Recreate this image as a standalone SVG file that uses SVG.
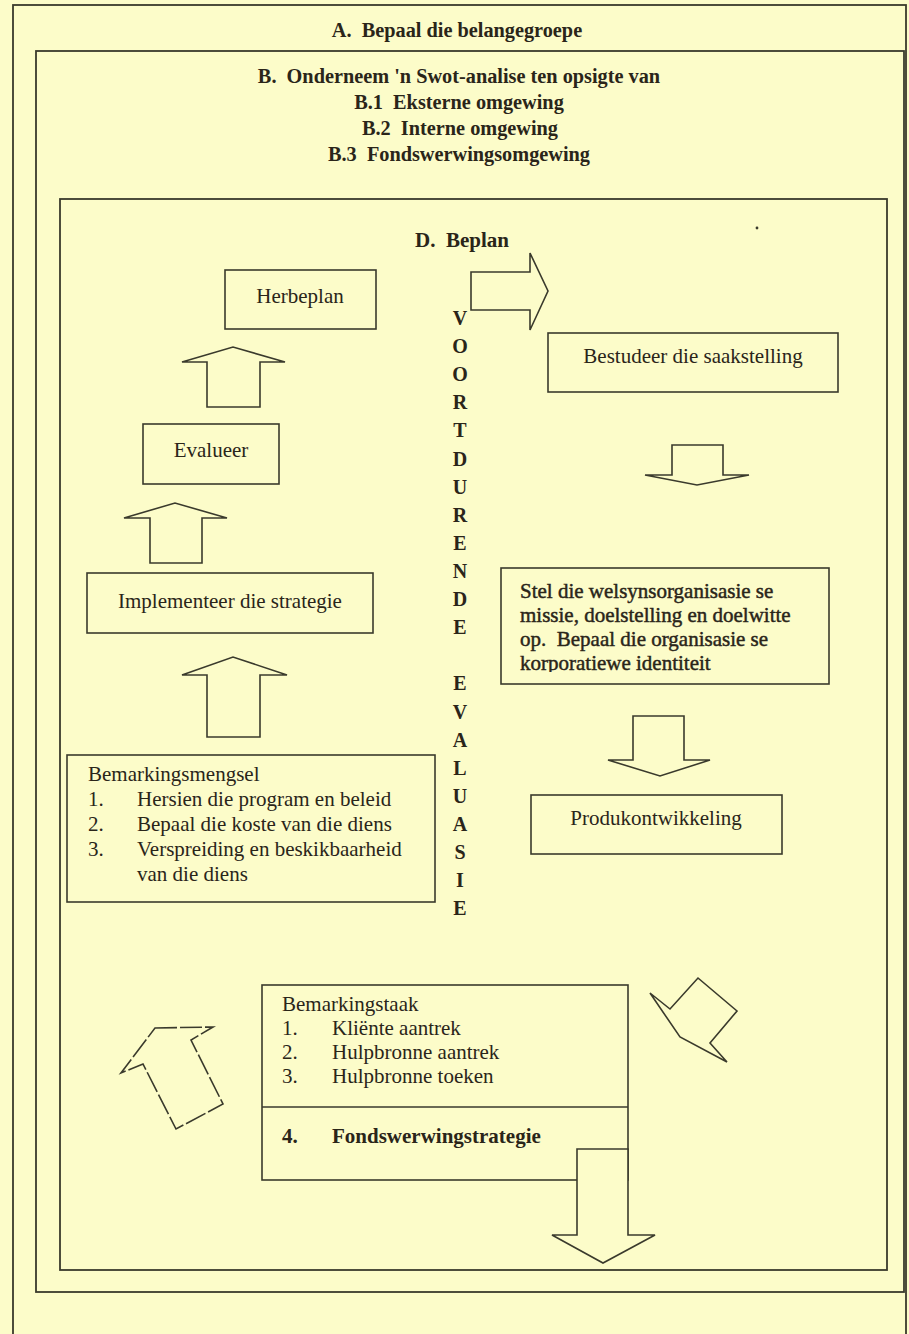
<svg xmlns="http://www.w3.org/2000/svg" width="909" height="1334" viewBox="0 0 909 1334">
  <defs>
    <style>
      .frame { fill: none; stroke: #3a3a2c; stroke-width: 1.8; }
      .box { fill: none; stroke: #3a3a2c; stroke-width: 1.6; }
      .arrow { fill: #fcfcc9; stroke: #3a3a2c; stroke-width: 1.6; stroke-linejoin: miter; }
      .dashed { stroke-dasharray: 22 3; }
      .t { font-family: "Liberation Serif", "Times New Roman", serif; font-size: 21px; fill: #2a2519; }
      .b { font-weight: bold; }
      .c { text-anchor: middle; }
      .title { font-size: 20.3px; }
      .heavy { stroke: #2a2519; stroke-width: 0.45; }
      .col { font-family: "Liberation Serif", "Times New Roman", serif; font-size: 20px; font-weight: bold; fill: #2a2519; text-anchor: middle; }
    </style>
    <clipPath id="clip-mission">
      <rect x="501" y="568" width="328" height="104"/>
    </clipPath>
  </defs>

  <!-- paper -->
  <rect x="0" y="0" width="909" height="1334" fill="#fcfcc9"/>

  <!-- A: outer frame -->
  <g id="frame-a">
    <rect class="frame" x="13" y="5" width="893" height="1340"/>
    <text class="t b c title" x="457" y="37" xml:space="preserve">A.  Bepaal die belangegroepe</text>
  </g>

  <!-- B: SWOT frame -->
  <g id="frame-b">
    <rect class="frame" x="36" y="51" width="868" height="1241"/>
    <text class="t b c title" x="459" y="83" xml:space="preserve">B.  Onderneem 'n Swot-analise ten opsigte van</text>
    <text class="t b c title" x="459" y="109" xml:space="preserve">B.1  Eksterne omgewing</text>
    <text class="t b c title" x="460" y="135" xml:space="preserve">B.2  Interne omgewing</text>
    <text class="t b c title" x="459" y="161" xml:space="preserve">B.3  Fondswerwingsomgewing</text>
  </g>

  <!-- D: planning frame -->
  <g id="frame-d">
    <rect class="frame" x="60" y="199" width="827" height="1071"/>
    <text class="t b" x="415" y="247" xml:space="preserve">D.  Beplan</text>
    <circle cx="757" cy="228" r="1.4" fill="#3a3a2c"/>
  </g>

  <!-- vertical caption -->
  <g id="caption-evaluasie">
    <text class="col" x="460" y="325">V</text>
    <text class="col" x="460" y="353">O</text>
    <text class="col" x="460" y="381">O</text>
    <text class="col" x="460" y="409">R</text>
    <text class="col" x="460" y="437">T</text>
    <text class="col" x="460" y="466">D</text>
    <text class="col" x="460" y="494">U</text>
    <text class="col" x="460" y="522">R</text>
    <text class="col" x="460" y="550">E</text>
    <text class="col" x="460" y="578">N</text>
    <text class="col" x="460" y="606">D</text>
    <text class="col" x="460" y="634">E</text>
    <text class="col" x="460" y="690">E</text>
    <text class="col" x="460" y="719">V</text>
    <text class="col" x="460" y="747">A</text>
    <text class="col" x="460" y="775">L</text>
    <text class="col" x="460" y="803">U</text>
    <text class="col" x="460" y="831">A</text>
    <text class="col" x="460" y="859">S</text>
    <text class="col" x="460" y="887">I</text>
    <text class="col" x="460" y="915">E</text>
  </g>

  <!-- process steps -->
  <g id="node-herbeplan">
    <rect class="box" x="225" y="270" width="151" height="59"/>
    <text class="t c" x="300" y="303">Herbeplan</text>
  </g>

  <g id="node-evalueer">
    <rect class="box" x="143" y="424" width="136" height="60"/>
    <text class="t c" x="211" y="457">Evalueer</text>
  </g>

  <g id="node-implementeer">
    <rect class="box" x="87" y="573" width="286" height="60"/>
    <text class="t c" x="230" y="608">Implementeer die strategie</text>
  </g>

  <g id="node-bemarkingsmengsel">
    <rect class="box" x="67" y="755" width="368" height="147"/>
    <text class="t" x="88" y="781">Bemarkingsmengsel</text>
    <text class="t" x="88" y="806">1.</text>
    <text class="t" x="137" y="806">Hersien die program en beleid</text>
    <text class="t" x="88" y="831">2.</text>
    <text class="t" x="137" y="831">Bepaal die koste van die diens</text>
    <text class="t" x="88" y="856">3.</text>
    <text class="t" x="137" y="856">Verspreiding en beskikbaarheid</text>
    <text class="t" x="137" y="881">van die diens</text>
  </g>

  <g id="node-saakstelling">
    <rect class="box" x="548" y="333" width="290" height="59"/>
    <text class="t c" x="693" y="363">Bestudeer die saakstelling</text>
  </g>

  <g id="node-missie">
    <rect class="box" x="501" y="568" width="328" height="116"/>
    <g clip-path="url(#clip-mission)">
      <text class="t heavy" x="520" y="598">Stel die welsynsorganisasie se</text>
      <text class="t heavy" x="520" y="622">missie, doelstelling en doelwitte</text>
      <text class="t heavy" x="520" y="646" xml:space="preserve">op.  Bepaal die organisasie se</text>
      <text class="t heavy" x="520" y="670">korporatiewe identiteit</text>
    </g>
  </g>

  <g id="node-produkontwikkeling">
    <rect class="box" x="531" y="795" width="251" height="59"/>
    <text class="t c" x="656" y="825">Produkontwikkeling</text>
  </g>

  <g id="node-bemarkingstaak">
    <rect class="box" x="262" y="985" width="366" height="195"/>
    <line class="box" x1="262" y1="1107" x2="628" y2="1107"/>
    <text class="t" x="282" y="1011">Bemarkingstaak</text>
    <text class="t" x="282" y="1035">1.</text>
    <text class="t" x="332" y="1035">Kliënte aantrek</text>
    <text class="t" x="282" y="1059">2.</text>
    <text class="t" x="332" y="1059">Hulpbronne aantrek</text>
    <text class="t" x="282" y="1083">3.</text>
    <text class="t" x="332" y="1083">Hulpbronne toeken</text>
    <text class="t b" x="282" y="1143">4.</text>
    <text class="t b" x="332" y="1143">Fondswerwingstrategie</text>
  </g>

  <!-- block arrows linking the steps -->
  <g id="connectors">
    <!-- Beplan -> Bestudeer -->
    <polygon class="arrow" points="471,272 530,272 530,253 548,291 530,330 530,310 471,310"/>
    <!-- Bestudeer -> Stel -->
    <polygon class="arrow" points="672,445 723,445 723,475 749,475 697,485 645,475 672,475"/>
    <!-- Stel -> Produkontwikkeling -->
    <polygon class="arrow" points="633,716 684,716 684,760 710,760 660,776 608,760 633,760"/>
    <!-- Produkontwikkeling -> Bemarkingstaak -->
    <polygon class="arrow" points="650,993 670,1009 698,978 737,1011 710,1043 727,1062 680,1037"/>
    <!-- Fondswerwingstrategie down -->
    <polygon class="arrow" points="577,1149 628,1149 628,1235 655,1235 603,1263 552,1235 577,1235"/>
    <!-- Bemarkingstaak -> Bemarkingsmengsel (dashed) -->
    <polygon class="arrow dashed" points="155,1028 213,1027 191,1040 223,1104 176,1129 143,1064 121,1073"/>
    <!-- Bemarkingsmengsel -> Implementeer -->
    <polygon class="arrow" points="207,737 207,675 182,675 233,657 287,675 260,675 260,737"/>
    <!-- Implementeer -> Evalueer -->
    <polygon class="arrow" points="150,563 150,518 124,518 175,503 227,518 202,518 202,563"/>
    <!-- Evalueer -> Herbeplan -->
    <polygon class="arrow" points="207,407 207,362 182,362 233,347 285,362 260,362 260,407"/>
  </g>
</svg>
